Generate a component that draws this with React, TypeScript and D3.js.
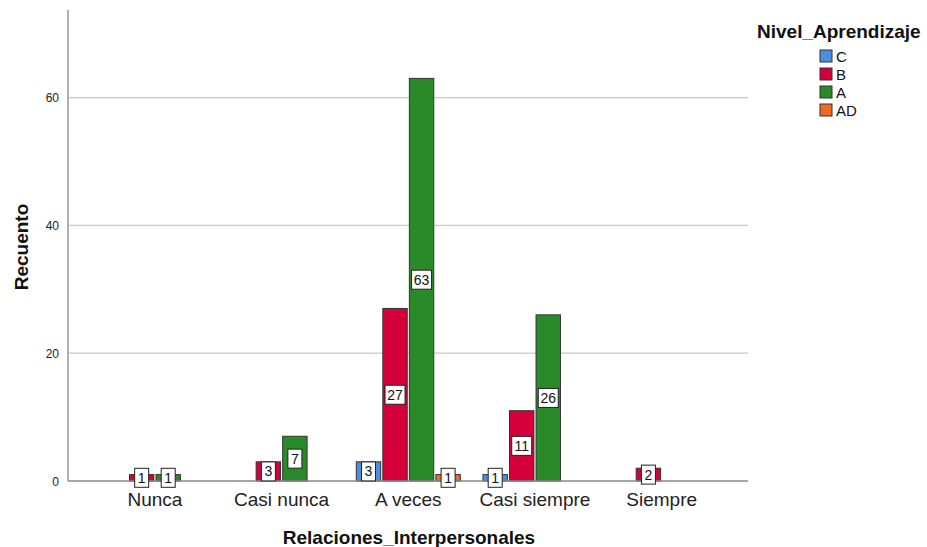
import React from "react";
import * as d3 from "d3";

const categories = ["Nunca", "Casi nunca", "A veces", "Casi siempre", "Siempre"];
const seriesNames = ["C", "B", "A", "AD"];
const seriesColors = ["#4a90e2", "#d5003a", "#2a8a2a", "#f06a24"];
const valuesC = [0, 0, 3, 1, 0];
const valuesB = [1, 3, 27, 11, 2];
const valuesA = [1, 7, 63, 26, 0];
const valuesAD = [0, 0, 1, 0, 0];
const yTicks = [0, 20, 40, 60];

const W = 927;
const H = 547;

export default function App() {
  const series = [valuesC, valuesB, valuesA, valuesAD];
  const y = d3.scaleLinear().domain([0, 73.7]).range([481, 10]);
  const x = d3.scaleBand<string>().domain(categories).range([91.6, 725]);
  const sub = d3.scaleBand<string>().domain(seriesNames).range([-52, 52]).paddingInner(0.08);
  const bw = sub.bandwidth();

  const bars: React.ReactNode[] = [];
  const labels: React.ReactNode[] = [];
  categories.forEach((cat, ci) => {
    const cx = (x(cat) as number) + x.bandwidth() / 2;
    seriesNames.forEach((s, si) => {
      const v = series[si][ci];
      if (!v) return;
      const bx = cx + (sub(s) as number);
      const top = y(v);
      bars.push(
        <rect key={`b${ci}-${si}`} x={bx} y={top} width={bw} height={y(0) - top}
          fill={seriesColors[si]} stroke="#333" strokeWidth={1} />
      );
      const txt = String(v);
      const boxW = txt.length > 1 ? 20 : 14;
      const boxH = 19;
      const my = (top + y(0)) / 2;
      const mx = bx + bw / 2;
      labels.push(
        <g key={`l${ci}-${si}`}>
          <rect x={mx - boxW / 2} y={my - boxH / 2} width={boxW} height={boxH} fill="#fff" stroke="#222" strokeWidth={1} />
          <text x={mx} y={my + 5} textAnchor="middle" fontSize={14} fontFamily="Arial, 'Liberation Sans', sans-serif" fill="#111">{txt}</text>
        </g>
      );
    });
  });

  return (
    <svg width={W} height={H} style={{ position: "absolute", left: 0, top: 0, background: "#fff" }}
      fontFamily="Arial, 'Liberation Sans', sans-serif">
      {yTicks.filter(t => t > 0).map(t => (
        <line key={`g${t}`} x1={68} x2={748} y1={y(t)} y2={y(t)} stroke="#c8c8c8" strokeWidth={1.2} />
      ))}
      {yTicks.map(t => (
        <text key={`t${t}`} x={59} y={y(t) + 4.5} textAnchor="end" fontSize={12} fill="#222">{t}</text>
      ))}
      {bars}
      <line x1={68} x2={748} y1={y(0)} y2={y(0)} stroke="#888" strokeWidth={1.3} />
      <line x1={68} x2={68} y1={10} y2={y(0)} stroke="#888" strokeWidth={1.3} />
      {labels}
      {categories.map(c => (
        <text key={`c${c}`} x={(x(c) as number) + x.bandwidth() / 2} y={506} textAnchor="middle" fontSize={19} fill="#222">{c}</text>
      ))}
      <text x={409} y={544} textAnchor="middle" fontSize={19} fontWeight="bold" fill="#111">Relaciones_Interpersonales</text>
      <text transform={`translate(28,247) rotate(-90)`} textAnchor="middle" fontSize={19} fontWeight="bold" fill="#111">Recuento</text>
      <text x={757} y={38} fontSize={19} fontWeight="bold" fill="#111">Nivel_Aprendizaje</text>
      {seriesNames.map((s, i) => (
        <g key={`lg${s}`}>
          <rect x={820} y={50 + i * 18} width={12} height={12} fill={seriesColors[i]} stroke="#333" strokeWidth={1} />
          <text x={836} y={62 + i * 18} fontSize={15} fill="#111">{s}</text>
        </g>
      ))}
    </svg>
  );
}
